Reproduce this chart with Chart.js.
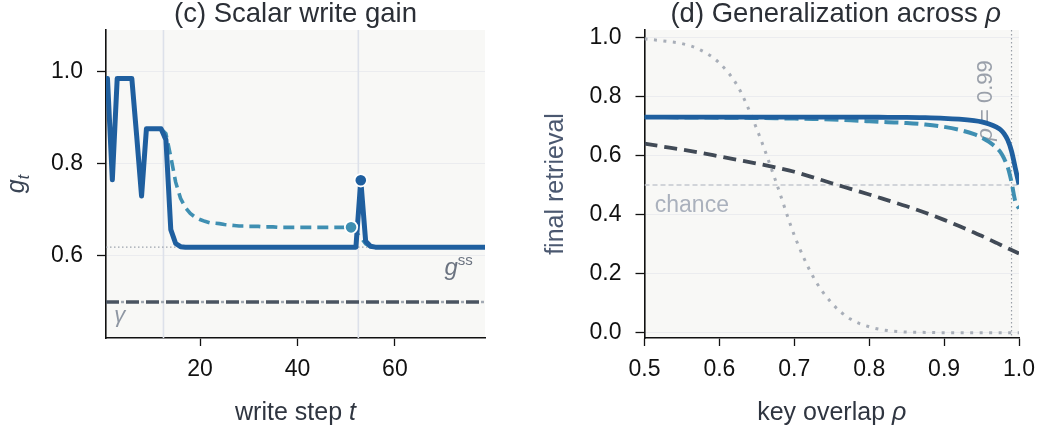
<!DOCTYPE html>
<html>
<head>
<meta charset="utf-8">
<script src="https://cdn.jsdelivr.net/npm/chart.js@4.4.1/dist/chart.umd.min.js"></script>
<style>
  html, body { margin: 0; padding: 0; background: #fff; }
  #wrap { position: relative; width: 1045px; height: 434px; overflow: hidden; }
  canvas { position: absolute; top: 0; }
  #left { left: 0; width: 520px; height: 434px; }
  #right { left: 520px; width: 525px; height: 434px; }
</style>
</head>
<body>
<div id="wrap">
  <canvas id="left" width="520" height="434"></canvas>
  <canvas id="right" width="525" height="434"></canvas>
</div>
<script>
// ---- panel (c): scalar write gain per write step ----
const steps = [];
for (let t = 1; t <= 79; t++) steps.push(t);

// with the surprise spike at t = 53
const gainSpike = [
  0.985, 0.765, 0.985, 0.985, 0.985, 0.985, 0.860, 0.730, 0.876, 0.876,
  0.876, 0.876, 0.852, 0.657, 0.627, 0.620, 0.619, 0.619, 0.619, 0.619,
  0.619, 0.619, 0.619, 0.619, 0.619, 0.619, 0.619, 0.619, 0.619, 0.619,
  0.619, 0.619, 0.619, 0.619, 0.619, 0.619, 0.619, 0.619, 0.619, 0.619,
  0.619, 0.619, 0.619, 0.619, 0.619, 0.619, 0.619, 0.619, 0.619, 0.619,
  0.619, 0.619, 0.764, 0.632, 0.621, 0.619, 0.619, 0.619, 0.619, 0.619,
  0.619, 0.619, 0.619, 0.619, 0.619, 0.619, 0.619, 0.619, 0.619, 0.619,
  0.619, 0.619, 0.619, 0.619, 0.619, 0.619, 0.619, 0.619, 0.619
];
// the slow (no spike) variant, starts after the warm-up
const gainSlow = [
  null, null, null, null, null, null, null, null, null, null,
  null, 0.876, 0.865, 0.815, 0.760, 0.725, 0.705, 0.692, 0.684, 0.679,
  0.675, 0.672, 0.671, 0.670, 0.668, 0.667, 0.666, 0.665, 0.665, 0.664,
  0.664, 0.664, 0.663, 0.663, 0.663, 0.662, 0.662, 0.662, 0.662, 0.662,
  0.662, 0.662, 0.662, 0.662, 0.662, 0.662, 0.662, 0.662, 0.662, 0.662,
  0.662, 0.652, 0.640, 0.626, 0.620, 0.619, 0.619, 0.619, 0.619, 0.619,
  0.619, 0.619, 0.619, 0.619, 0.619, 0.619, 0.619, 0.619, 0.619, 0.619,
  0.619, 0.619, 0.619, 0.619, 0.619, 0.619, 0.619, 0.619, 0.619
];
const spikeStep = 53;
const holdStep = 51;
const phaseBounds = [12.5, 52.5];
const gSteady = 0.619;
const gammaLevel = 0.5;
const stepTicks = [20, 40, 60];
const gainTicks = [0.6, 0.8, 1.0];

// ---- panel (d): retrieval vs key overlap ----
const rho = [0.50, 0.525, 0.55, 0.575, 0.60, 0.625, 0.65, 0.675, 0.70, 0.725,
             0.75, 0.775, 0.80, 0.825, 0.85, 0.875, 0.90, 0.92, 0.94, 0.95,
             0.96, 0.97, 0.975, 0.98, 0.985, 0.99, 0.995, 1.0];
const retrAdaptive = [0.730, 0.730, 0.730, 0.730, 0.730, 0.730, 0.730, 0.730, 0.730, 0.730,
                      0.730, 0.730, 0.730, 0.729, 0.729, 0.728, 0.726, 0.723, 0.718, 0.714,
                      0.707, 0.696, 0.688, 0.674, 0.652, 0.615, 0.558, 0.502];
const retrFixed = [0.730, 0.730, 0.729, 0.729, 0.728, 0.728, 0.727, 0.726, 0.725, 0.724,
                   0.722, 0.719, 0.716, 0.713, 0.710, 0.705, 0.697, 0.687, 0.672, 0.661,
                   0.646, 0.626, 0.612, 0.590, 0.560, 0.510, 0.445, 0.420];
const retrLinear = [0.640, 0.630, 0.620, 0.609, 0.597, 0.585, 0.573, 0.560, 0.545, 0.526,
                    0.506, 0.487, 0.468, 0.448, 0.428, 0.406, 0.382, 0.361, 0.339, 0.328,
                    0.316, 0.304, 0.298, 0.292, 0.286, 0.280, 0.274, 0.268];
const retrBaseline = [0.995, 0.988, 0.979, 0.957, 0.913, 0.832, 0.689, 0.515, 0.330, 0.190,
                      0.100, 0.046, 0.020, 0.007, 0.002, 0.001, 0.000, 0.000, 0.000, 0.000,
                      0.000, 0.000, 0.000, 0.000, 0.000, 0.000, 0.000, 0.000];
const chanceLevel = 0.5;
const rhoMark = 0.99;
const rhoTicks = [0.5, 0.6, 0.7, 0.8, 0.9, 1.0];
const retrTicks = [0.0, 0.2, 0.4, 0.6, 0.8, 1.0];

// colours / fonts
const FONT = '"Liberation Sans", Arial, sans-serif';
const BLUE = '#1f5f9f';
const TEAL = '#3f8fb2';
const SLATE = '#414a56';
const DOTS = '#a8aeb8';
const PANEL_BG = '#f8f8f6';
const GRID = '#ebecef';

Chart.defaults.font.family = FONT;

function pts(xs, ys) {
  return xs.map((x, i) => ({ x: x, y: ys[i] }));
}

// draw a run of text pieces with different fonts
function rich(ctx, parts, x, y, align) {
  let w = 0;
  parts.forEach(p => { ctx.font = p.f; w += ctx.measureText(p.t).width; });
  let cx = align === 'center' ? x - w / 2 : (align === 'right' ? x - w : x);
  ctx.textAlign = 'left';
  ctx.textBaseline = 'alphabetic';
  parts.forEach(p => {
    ctx.font = p.f;
    ctx.fillStyle = p.c;
    ctx.fillText(p.t, cx, y + (p.dy || 0));
    cx += ctx.measureText(p.t).width;
  });
}

function fillPanel(chart) {
  const { ctx, chartArea: a } = chart;
  ctx.save();
  ctx.fillStyle = PANEL_BG;
  ctx.fillRect(a.left, a.top, a.right - a.left, a.bottom - a.top);
  ctx.restore();
}

function axisCommon(tickList, fmt, isX) {
  return {
    type: 'linear',
    afterBuildTicks: s => { s.ticks = tickList.map(v => ({ value: v })); },
    border: { display: true, color: '#111', width: 1.6 },
    grid: {
      display: true,
      drawOnChartArea: !isX,
      color: GRID,
      lineWidth: 1,
      drawTicks: true,
      tickLength: isX ? 8 : 9,
      tickColor: '#111',
      tickWidth: 1.3
    },
    ticks: {
      color: '#111',
      font: { size: 23 },
      padding: isX ? 10 : 14,
      maxRotation: 0,
      autoSkip: false,
      callback: fmt
    }
  };
}

// ---------------- left chart ----------------
const leftX = Object.assign(axisCommon(stepTicks, v => String(v), true), {
  min: 0.7, max: 78.5,
  afterFit: s => { s.height = 96; }
});
const leftY = Object.assign(axisCommon(gainTicks, v => v.toFixed(1), false), {
  min: 0.422, max: 1.09,
  afterFit: s => { s.width = 106; }
});

const leftDecor = {
  id: 'leftDecor',
  beforeDraw: fillPanel,
  beforeDatasetsDraw(chart) {
    const { ctx, chartArea: a, scales: { x, y } } = chart;
    ctx.save();
    ctx.beginPath();
    ctx.rect(a.left, a.top, a.right - a.left, a.bottom - a.top);
    ctx.clip();
    ctx.strokeStyle = '#dde1ea';
    ctx.lineWidth = 1.6;
    phaseBounds.forEach(t => {
      const px = x.getPixelForValue(t);
      ctx.beginPath(); ctx.moveTo(px, a.top); ctx.lineTo(px, a.bottom); ctx.stroke();
    });
    const yss = y.getPixelForValue(gSteady);
    ctx.strokeStyle = '#9ca3ad';
    ctx.lineWidth = 1.2;
    ctx.setLineDash([1.5, 2.5]);
    ctx.beginPath(); ctx.moveTo(a.left, yss); ctx.lineTo(a.right, yss); ctx.stroke();
    const yg = y.getPixelForValue(gammaLevel);
    ctx.strokeStyle = '#a3aab4';
    ctx.lineWidth = 2.6;
    ctx.setLineDash([3, 17]);
    ctx.lineDashOffset = 5;
    ctx.beginPath(); ctx.moveTo(a.left, yg); ctx.lineTo(a.right, yg); ctx.stroke();
    ctx.strokeStyle = '#4a5461';
    ctx.lineWidth = 3.4;
    ctx.setLineDash([13, 7]);
    ctx.lineDashOffset = 0;
    ctx.beginPath(); ctx.moveTo(a.left, yg); ctx.lineTo(a.right, yg); ctx.stroke();
    ctx.restore();
  },
  afterDatasetsDraw(chart) {
    const { ctx, scales: { x, y } } = chart;
    ctx.save();
    rich(ctx, [
      { t: 'g', f: 'italic 24px ' + FONT, c: '#6b7380' },
      { t: 'ss', f: '15px ' + FONT, c: '#6b7380', dy: -10 }
    ], x.getPixelForValue(76), y.getPixelForValue(0.559), 'right');
    rich(ctx, [{ t: 'γ', f: 'italic 22px ' + FONT, c: '#8f97a3' }],
      x.getPixelForValue(2.4), y.getPixelForValue(0.457), 'left');
    ctx.restore();
  },
  afterDraw(chart) {
    const { ctx, chartArea: a } = chart;
    const cx = (a.left + a.right) / 2;
    ctx.save();
    rich(ctx, [{ t: '(c) Scalar write gain', f: '27.5px ' + FONT, c: '#2b2f36' }], cx, 22, 'center');
    rich(ctx, [
      { t: 'write step ', f: '25px ' + FONT, c: '#2f3540' },
      { t: 't', f: 'italic 25px ' + FONT, c: '#2f3540' }
    ], cx, 420, 'center');
    ctx.translate(24, (a.top + a.bottom) / 2);
    ctx.rotate(-Math.PI / 2);
    rich(ctx, [
      { t: 'g', f: 'italic 25px ' + FONT, c: '#3c4656' },
      { t: 't', f: 'italic 16px ' + FONT, c: '#3c4656', dy: 5 }
    ], 0, 0, 'center');
    ctx.restore();
  }
};

new Chart(document.getElementById('left'), {
  type: 'line',
  data: {
    datasets: [
      {
        label: 'spike',
        data: [{ x: spikeStep, y: gainSpike[steps.indexOf(spikeStep)] }],
        showLine: false, pointRadius: 6.2,
        pointBackgroundColor: BLUE, pointBorderColor: '#fff', pointBorderWidth: 1.8
      },
      {
        label: 'hold',
        data: [{ x: holdStep, y: gainSlow[steps.indexOf(holdStep)] }],
        showLine: false, pointRadius: 6.2,
        pointBackgroundColor: TEAL, pointBorderColor: '#fff', pointBorderWidth: 1.8
      },
      {
        label: 'with spike',
        data: pts(steps, gainSpike),
        borderColor: BLUE, borderWidth: 5, pointRadius: 0,
        borderJoinStyle: 'round', borderCapStyle: 'round', tension: 0, clip: 0
      },
      {
        label: 'slow',
        data: pts(steps, gainSlow),
        borderColor: TEAL, borderWidth: 3.6, borderDash: [11, 6], pointRadius: 0,
        tension: 0, clip: 0, spanGaps: false
      }
    ]
  },
  options: {
    responsive: false,
    animation: false,
    layout: { padding: { left: 0, right: 35, top: 30, bottom: 0 } },
    plugins: { legend: { display: false }, tooltip: { enabled: false }, title: { display: false } },
    scales: { x: leftX, y: leftY }
  },
  plugins: [leftDecor]
});

// ---------------- right chart ----------------
const rightX = Object.assign(axisCommon(rhoTicks, v => v.toFixed(1), true), {
  min: 0.5, max: 1.0,
  afterFit: s => { s.height = 96; }
});
const rightY = Object.assign(axisCommon(retrTicks, v => v.toFixed(1), false), {
  min: -0.018, max: 1.025,
  afterFit: s => { s.width = 124.5; }
});

const rightDecor = {
  id: 'rightDecor',
  beforeDraw: fillPanel,
  beforeDatasetsDraw(chart) {
    const { ctx, chartArea: a, scales: { x, y } } = chart;
    ctx.save();
    ctx.beginPath();
    ctx.rect(a.left, a.top, a.right - a.left, a.bottom - a.top);
    ctx.clip();
    const yc = y.getPixelForValue(chanceLevel);
    ctx.strokeStyle = '#c4c8d0';
    ctx.lineWidth = 1.4;
    ctx.setLineDash([5, 3]);
    ctx.beginPath(); ctx.moveTo(a.left, yc); ctx.lineTo(a.right, yc); ctx.stroke();
    const xm = x.getPixelForValue(rhoMark);
    ctx.strokeStyle = '#9aa0a8';
    ctx.lineWidth = 1.2;
    ctx.setLineDash([1.5, 2.5]);
    ctx.beginPath(); ctx.moveTo(xm, a.top); ctx.lineTo(xm, a.bottom); ctx.stroke();
    ctx.restore();
    ctx.save();
    rich(ctx, [{ t: 'chance', f: '23px ' + FONT, c: '#aab1bd' }],
      x.getPixelForValue(0.5137), y.getPixelForValue(0.409), 'left');
    ctx.translate(x.getPixelForValue(0.9535) + 8, y.getPixelForValue(0.65));
    ctx.rotate(-Math.PI / 2);
    rich(ctx, [
      { t: 'ρ', f: 'italic 22px ' + FONT, c: '#9aa0aa' },
      { t: ' = 0.99', f: '22px ' + FONT, c: '#9aa0aa' }
    ], 0, 0, 'left');
    ctx.restore();
  },
  afterDraw(chart) {
    const { ctx, chartArea: a } = chart;
    const cx = (a.left + a.right) / 2;
    ctx.save();
    rich(ctx, [
      { t: '(d) Generalization across ', f: '27.5px ' + FONT, c: '#2b2f36' },
      { t: 'ρ', f: 'italic 27.5px ' + FONT, c: '#2b2f36' }
    ], cx + 4, 22, 'center');
    rich(ctx, [
      { t: 'key overlap ', f: '25px ' + FONT, c: '#2f3540' },
      { t: 'ρ', f: 'italic 25px ' + FONT, c: '#2f3540' }
    ], cx, 420, 'center');
    ctx.translate(43, (a.top + a.bottom) / 2);
    ctx.rotate(-Math.PI / 2);
    rich(ctx, [{ t: 'final retrieval', f: '25px ' + FONT, c: '#4b5870' }], 0, 0, 'center');
    ctx.restore();
  }
};

new Chart(document.getElementById('right'), {
  type: 'line',
  data: {
    datasets: [
      {
        label: 'adaptive',
        data: pts(rho, retrAdaptive),
        borderColor: BLUE, borderWidth: 4.8, pointRadius: 0,
        cubicInterpolationMode: 'monotone', clip: 0
      },
      {
        label: 'fixed',
        data: pts(rho, retrFixed),
        borderColor: TEAL, borderWidth: 4, borderDash: [14, 6], pointRadius: 0,
        cubicInterpolationMode: 'monotone', clip: 0
      },
      {
        label: 'linear',
        data: pts(rho, retrLinear),
        borderColor: SLATE, borderWidth: 3.8, borderDash: [13, 7], pointRadius: 0,
        cubicInterpolationMode: 'monotone', clip: 0
      },
      {
        label: 'baseline',
        data: pts(rho, retrBaseline),
        borderColor: DOTS, borderWidth: 3, borderDash: [3, 6.5], pointRadius: 0,
        cubicInterpolationMode: 'monotone', clip: 0
      }
    ]
  },
  options: {
    responsive: false,
    animation: false,
    layout: { padding: { left: 0, right: 23, top: 30, bottom: 0 } },
    plugins: { legend: { display: false }, tooltip: { enabled: false }, title: { display: false } },
    scales: { x: rightX, y: rightY }
  },
  plugins: [rightDecor]
});
</script>
</body>
</html>
